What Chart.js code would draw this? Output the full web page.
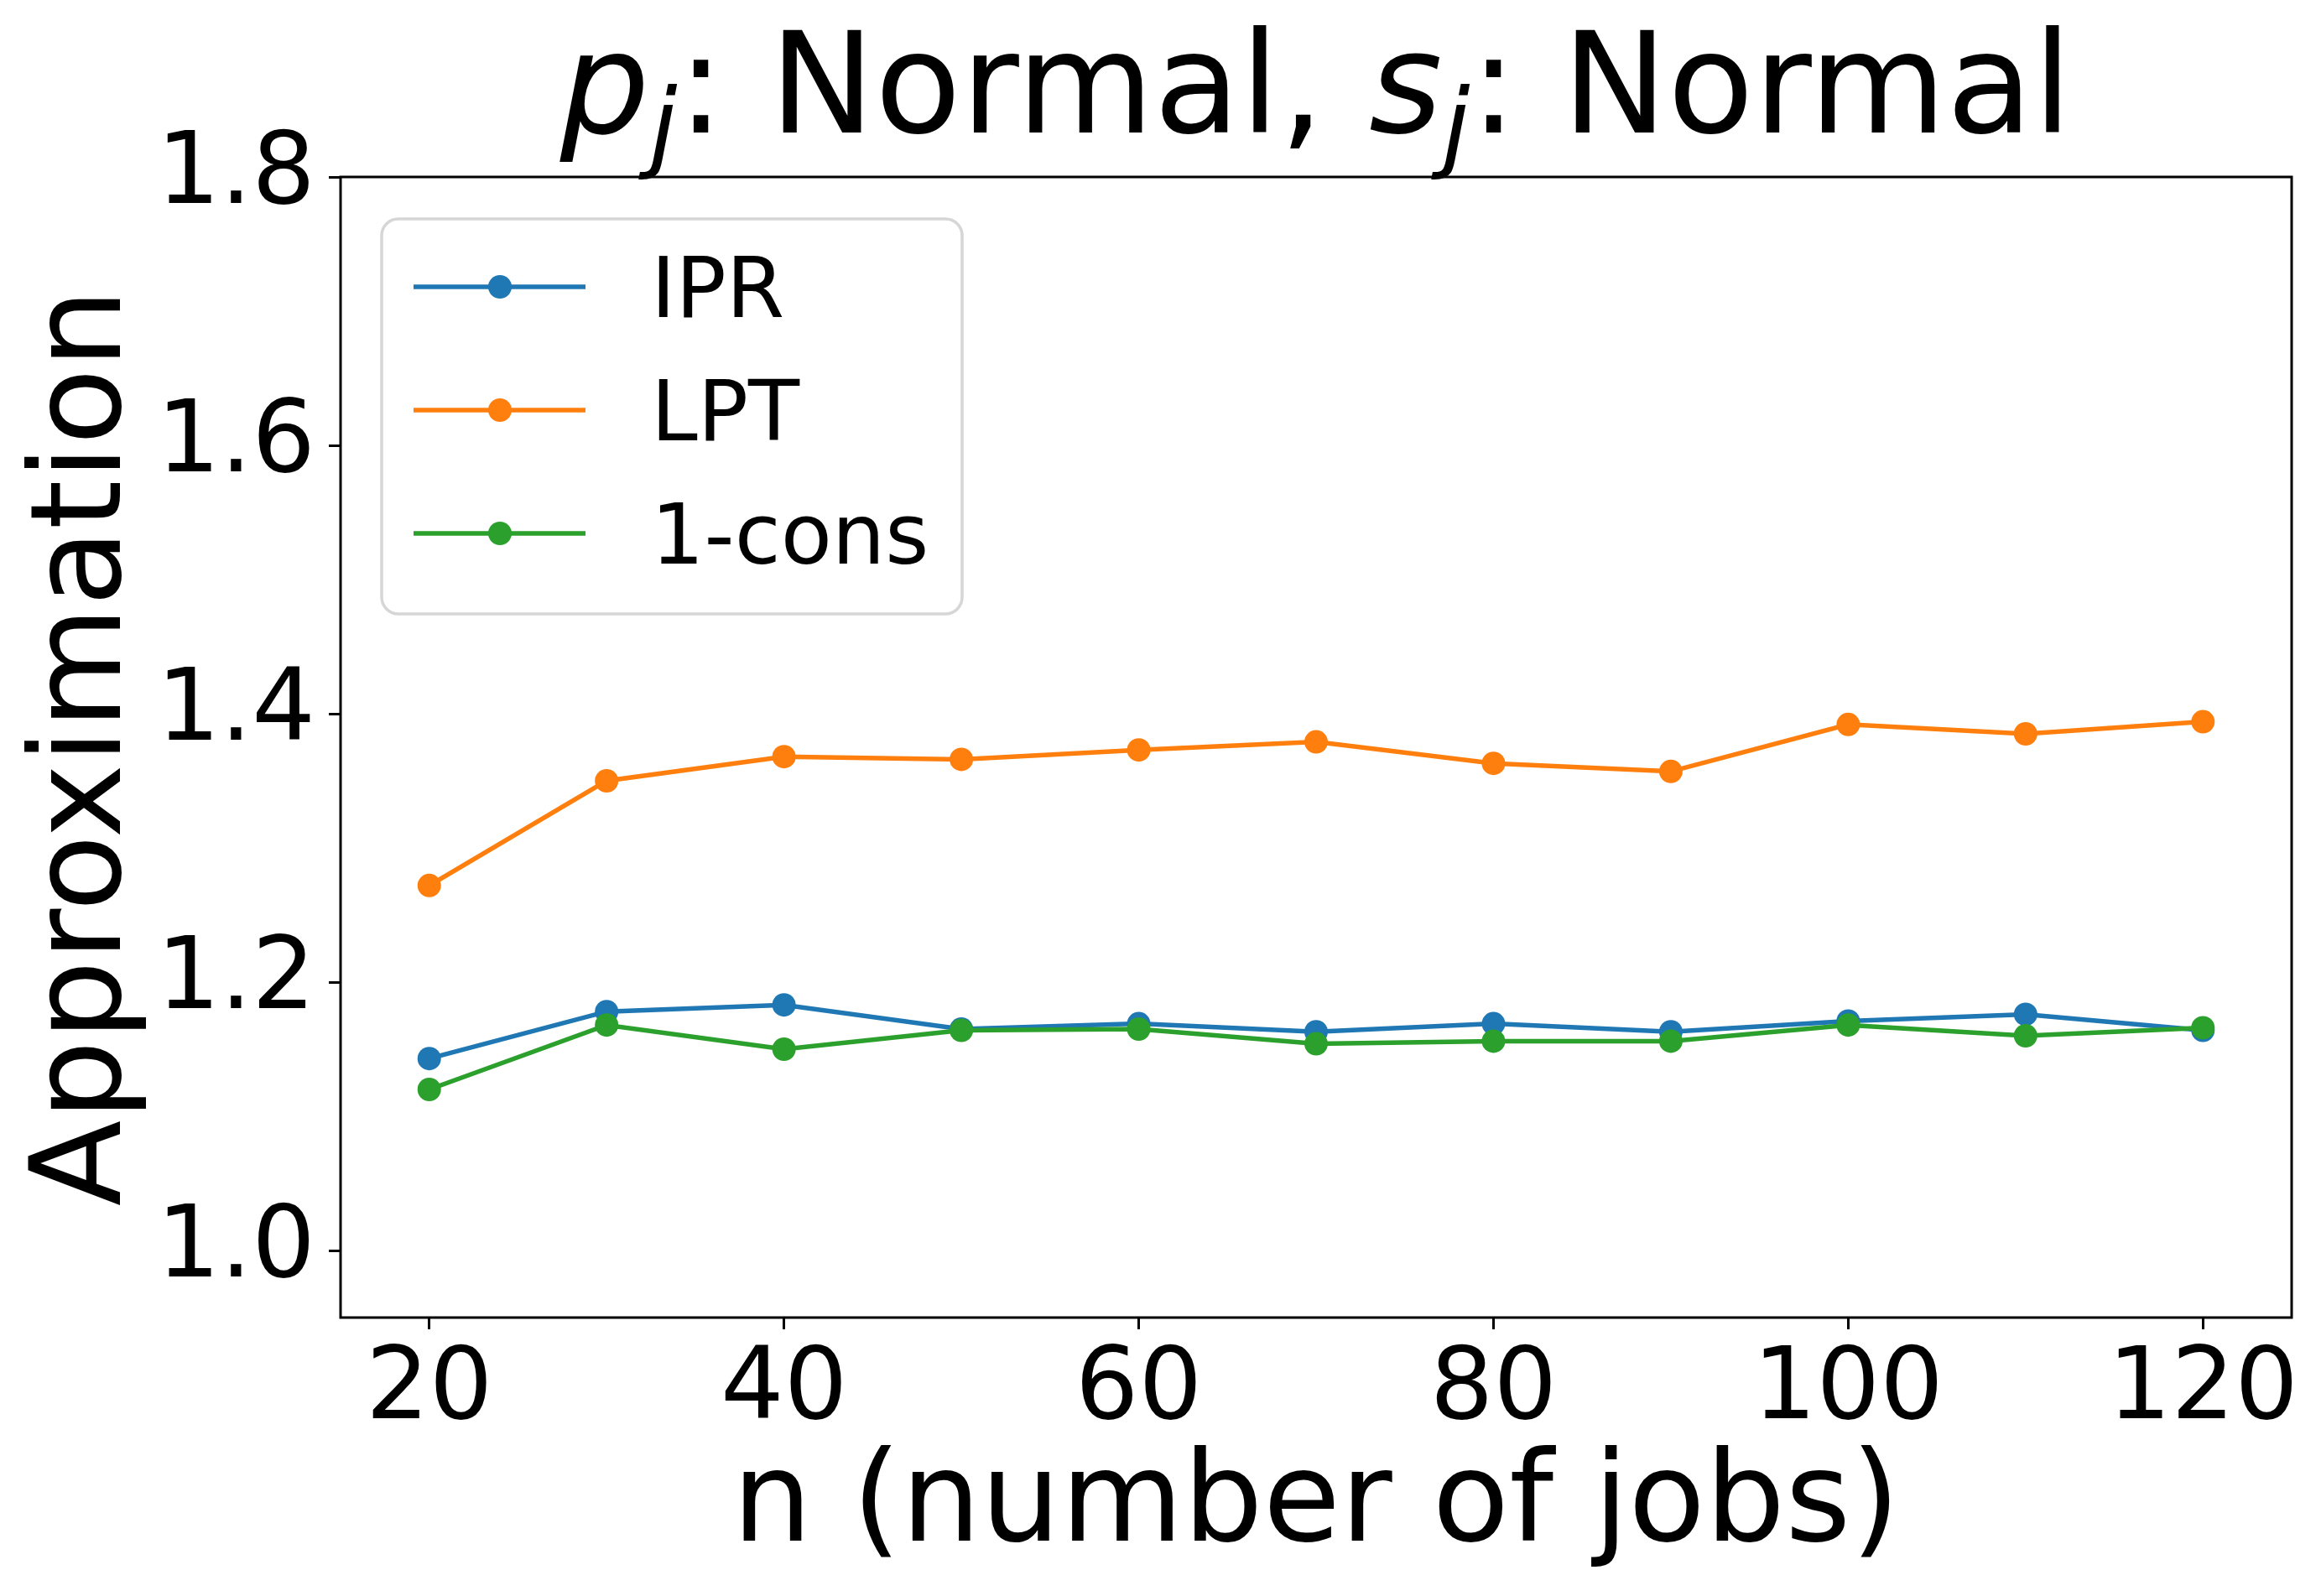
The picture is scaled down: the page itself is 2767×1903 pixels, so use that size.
<!DOCTYPE html>
<html>
<head>
<meta charset="utf-8">
<script src="https://cdn.jsdelivr.net/npm/chart.js@4.4.1/dist/chart.umd.min.js"></script>
<style>
  html, body { margin: 0; padding: 0; background: #ffffff; }
  #wrap { width: 2767px; height: 1903px; }
</style>
</head>
<body>
<div id="wrap"><canvas id="c" width="2767" height="1903"></canvas></div>
<script>
// ---- data ----
const jobCounts = [20, 30, 40, 50, 60, 70, 80, 90, 100, 110, 120];
const seriesLabels = ['IPR', 'LPT', '1-cons'];
const ipr   = [1.143, 1.178, 1.183, 1.165, 1.169, 1.163, 1.169, 1.163, 1.171, 1.176, 1.164];
const lpt   = [1.272, 1.350, 1.368, 1.366, 1.373, 1.379, 1.363, 1.357, 1.392, 1.385, 1.394];
const cons1 = [1.120, 1.168, 1.150, 1.164, 1.165, 1.154, 1.156, 1.156, 1.168, 1.160, 1.166];
const xTicks = [20, 40, 60, 80, 100, 120];
const yTicks = [1.0, 1.2, 1.4, 1.6, 1.8];
const xTitle = 'n (number of jobs)';
const yTitle = 'Approximation';
// title: p_j: Normal, s_j: Normal  (italic letters with subscripts)
const titleParts = [
  { t: 'p', italic: true, sub: false },
  { t: 'j', italic: true, sub: true },
  { t: ': Normal, ', italic: false, sub: false },
  { t: 's', italic: true, sub: false },
  { t: 'j', italic: true, sub: true },
  { t: ': Normal', italic: false, sub: false }
];

const colors = ['#1f77b4', '#ff7f0e', '#2ca02c'];
const FONT = "'DejaVu Sans', sans-serif";

function toPoints(arr) { return arr.map((v, i) => ({ x: jobCounts[i], y: v })); }

const seriesValues = [ipr, lpt, cons1];
const datasets = seriesValues.map((vals, i) => ({
  label: seriesLabels[i],
  data: toPoints(vals),
  borderColor: colors[i],
  backgroundColor: colors[i],
  borderWidth: 5.5,
  pointRadius: 14,
  pointHoverRadius: 14,
  pointBorderWidth: 0,
  pointBackgroundColor: colors[i],
  tension: 0,
  order: seriesLabels.length - 1 - i
}));

const titlePlugin = {
  id: 'mathTitle',
  afterDraw(chart) {
    const ctx = chart.ctx;
    const ca = chart.chartArea;
    const size = 168, subSize = 118, subShift = 32;
    const baseline = 158;
    const fontFor = p => (p.italic ? 'oblique ' : '') + (p.sub ? subSize : size) + 'px ' + FONT;
    ctx.save();
    let total = 0;
    const widths = titleParts.map(p => { ctx.font = fontFor(p); const w = ctx.measureText(p.t).width; total += w; return w; });
    let x = (ca.left + ca.right) / 2 - total / 2;
    ctx.fillStyle = '#000';
    ctx.textBaseline = 'alphabetic';
    ctx.textAlign = 'left';
    titleParts.forEach((p, i) => {
      ctx.font = fontFor(p);
      ctx.fillText(p.t, x, baseline + (p.sub ? subShift : 0));
      x += widths[i];
    });
    ctx.restore();
  }
};

const framePlugin = {
  id: 'frame',
  afterDatasetsDraw(chart) {
    const ctx = chart.ctx, ca = chart.chartArea;
    ctx.save();
    ctx.strokeStyle = '#000';
    ctx.lineWidth = 3;
    ctx.strokeRect(ca.left, ca.top, ca.right - ca.left, ca.bottom - ca.top);
    ctx.restore();
  }
};

const legendPlugin = {
  id: 'mplLegend',
  afterDraw(chart) {
    const ctx = chart.ctx, ca = chart.chartArea;
    const bx = ca.left + 49, by = ca.top + 50, bw = 692, bh = 471, r = 20;
    ctx.save();
    ctx.beginPath();
    ctx.moveTo(bx + r, by);
    ctx.lineTo(bx + bw - r, by);
    ctx.arcTo(bx + bw, by, bx + bw, by + r, r);
    ctx.lineTo(bx + bw, by + bh - r);
    ctx.arcTo(bx + bw, by + bh, bx + bw - r, by + bh, r);
    ctx.lineTo(bx + r, by + bh);
    ctx.arcTo(bx, by + bh, bx, by + bh - r, r);
    ctx.lineTo(bx, by + r);
    ctx.arcTo(bx, by, bx + r, by, r);
    ctx.closePath();
    ctx.fillStyle = 'rgba(255,255,255,0.8)';
    ctx.fill();
    ctx.strokeStyle = '#d6d6d6';
    ctx.lineWidth = 3.5;
    ctx.stroke();
    chart.data.datasets.forEach((ds, i) => {
      const y = by + 81 + i * 147;
      ctx.strokeStyle = ds.borderColor;
      ctx.lineWidth = 5.5;
      ctx.beginPath();
      ctx.moveTo(bx + 38, y);
      ctx.lineTo(bx + 243, y);
      ctx.stroke();
      ctx.fillStyle = ds.borderColor;
      ctx.beginPath();
      ctx.arc(bx + 141, y, 14, 0, Math.PI * 2);
      ctx.fill();
      ctx.fillStyle = '#000';
      ctx.font = '100px ' + FONT;
      ctx.textBaseline = 'alphabetic';
      ctx.textAlign = 'left';
      ctx.fillText(ds.label, bx + 321, y + 36);
    });
    ctx.restore();
  }
};

new Chart(document.getElementById('c'), {
  type: 'line',
  data: { datasets },
  plugins: [titlePlugin, framePlugin, legendPlugin],
  options: {
    responsive: false,
    devicePixelRatio: 1,
    animation: false,
    events: [],
    layout: { padding: { top: 211, right: 35, bottom: 0, left: 0 } },
    plugins: { legend: { display: false }, title: { display: false }, tooltip: { enabled: false } },
    scales: {
      x: {
        type: 'linear',
        min: 15, max: 125,
        afterBuildTicks: s => { s.ticks = xTicks.map(v => ({ value: v })); },
        afterFit: s => { s.height = 332; },
        border: { display: false },
        grid: { drawOnChartArea: false, drawTicks: true, tickLength: 14, tickWidth: 3, color: '#000' },
        ticks: {
          color: '#000', padding: 16, maxRotation: 0, autoSkip: false,
          font: { family: FONT, size: 119, lineHeight: 1 },
          callback: v => String(v)
        },
        title: {
          display: true, text: xTitle, color: '#000',
          font: { family: FONT, size: 150, lineHeight: 1.2 },
          padding: { top: 0, bottom: 15 }
        }
      },
      y: {
        type: 'linear',
        min: 0.95, max: 1.8,
        afterBuildTicks: s => { s.ticks = yTicks.map(v => ({ value: v })); },
        afterFit: s => { s.width = 406; },
        border: { display: false },
        grid: { drawOnChartArea: false, drawTicks: true, tickLength: 14, tickWidth: 3, color: '#000' },
        ticks: {
          color: '#000', padding: 16, autoSkip: false,
          font: { family: FONT, size: 119, lineHeight: 1 },
          callback: v => Number(v).toFixed(1)
        },
        title: {
          display: true, text: yTitle, color: '#000',
          font: { family: FONT, size: 150, lineHeight: 1.2 },
          padding: { top: 14, bottom: 0 }
        }
      }
    }
  }
});
</script>
</body>
</html>
